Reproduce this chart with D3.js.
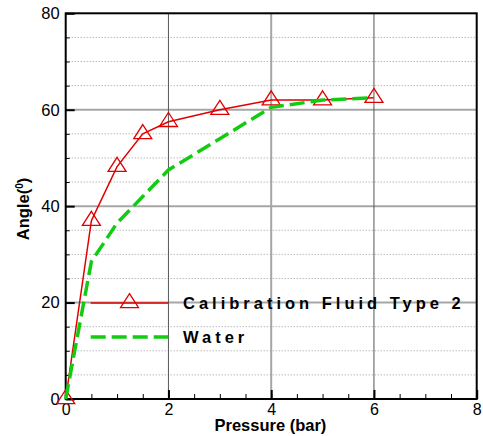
<!DOCTYPE html>
<html>
<head>
<meta charset="utf-8">
<script src="https://cdn.jsdelivr.net/npm/d3@7"></script>
<style>
  html, body { margin: 0; padding: 0; background: #fff; }
  svg { display: block; font-family: "Liberation Sans", Arial, sans-serif; }
</style>
</head>
<body>
<svg id="chart" width="483" height="436"></svg>
<script>
// ---- data ----
const pressureCal = [0, 0.5, 1, 1.5, 2, 3, 4, 5, 6];
const angleCal    = [0, 37, 48.2, 55, 57.5, 60, 62, 62, 62.5];
const pressureWater = [0, 0.5, 1, 1.5, 2, 3, 4, 5, 6];
const angleWater    = [0, 28.5, 36.5, 42, 47.5, 54, 60.5, 62, 62.5];
const xTicks = [0, 2, 4, 6, 8];
const yTicks = [0, 20, 40, 60, 80];
const seriesNames = ["Calibration Fluid Type 2", "Water"];

const svg = d3.select("#chart");
const x = d3.scaleLinear().domain([0, 8]).range([65.7, 476.7]);
const y = d3.scaleLinear().domain([0, 80]).range([399, 13.3]);

const x0 = x.range()[0], x1 = x.range()[1];
const y0 = y.range()[0], y1 = y.range()[1];

// minor dotted horizontal grid every 5
const minorY = d3.range(5, 80, 5).filter(v => v % 20 !== 0);
svg.append("g").selectAll("line").data(minorY).join("line")
  .attr("x1", x0).attr("x2", x1)
  .attr("y1", d => y(d)).attr("y2", d => y(d))
  .attr("stroke", "#9a9a9a").attr("stroke-width", 1)
  .attr("stroke-dasharray", "1,2");

// major horizontal grid
svg.append("g").selectAll("line").data([20, 40, 60]).join("line")
  .attr("x1", x0).attr("x2", x1)
  .attr("y1", d => y(d)).attr("y2", d => y(d))
  .attr("stroke", "#a6a6a6").attr("stroke-width", 2);

// major vertical grid
svg.append("g").selectAll("line").data([2, 4, 6]).join("line")
  .attr("x1", d => x(d)).attr("x2", d => x(d))
  .attr("y1", y0).attr("y2", y1)
  .attr("stroke", d => d === 4 ? "#a6a6a6" : "#555")
  .attr("stroke-width", d => d === 4 ? 2 : 1);

// minor ticks
svg.append("g").attr("transform", `translate(0,${y0})`)
  .call(d3.axisBottom(x).tickValues(d3.range(0.5, 8, 0.5)).tickSize(-5).tickFormat(""))
  .call(g => g.select(".domain").remove())
  .call(g => g.selectAll("line").attr("stroke", "#000").attr("stroke-width", 1));
svg.append("g").attr("transform", `translate(${x0},0)`)
  .call(d3.axisLeft(y).tickValues(minorY).tickSize(-4).tickFormat(""))
  .call(g => g.select(".domain").remove())
  .call(g => g.selectAll("line").attr("stroke", "#000").attr("stroke-width", 1));

// major axes
svg.append("g").attr("transform", `translate(0,${y0})`)
  .call(d3.axisBottom(x).tickValues(xTicks).tickSize(-9).tickPadding(5).tickFormat(d3.format("d")))
  .call(g => g.select(".domain").remove())
  .call(g => g.selectAll("line").attr("stroke", "#000").attr("stroke-width", 2))
  .call(g => g.selectAll("text").attr("font-size", "16px").attr("fill", "#000")
        .attr("font-family", "Liberation Sans, Arial, sans-serif"));
svg.append("g").attr("transform", `translate(${x0},0)`)
  .call(d3.axisLeft(y).tickValues(yTicks).tickSize(-9).tickPadding(6).tickFormat(d3.format("d")))
  .call(g => g.select(".domain").remove())
  .call(g => g.selectAll("line").attr("stroke", "#000").attr("stroke-width", 2))
  .call(g => g.selectAll("text").attr("font-size", "16.5px").attr("fill", "#000")
        .attr("font-family", "Liberation Sans, Arial, sans-serif"));

// frame
svg.append("rect")
  .attr("x", x0).attr("y", y1)
  .attr("width", x1 - x0).attr("height", y0 - y1)
  .attr("fill", "none").attr("stroke", "#000").attr("stroke-width", 2);

const red = "#e00000";
const green = "#11cc11";
const triPath = "M0,-9.3L9,4.7L-9,4.7Z";

const calData = pressureCal.map((p, i) => [p, angleCal[i]]);
const waterData = pressureWater.map((p, i) => [p, angleWater[i]]);
const line = d3.line().x(d => x(d[0])).y(d => y(d[1]));

svg.append("path").datum(calData)
  .attr("d", line).attr("fill", "none")
  .attr("stroke", red).attr("stroke-width", 1.5);
svg.append("g").selectAll("path").data(calData).join("path")
  .attr("transform", d => `translate(${x(d[0])},${y(d[1])})`)
  .attr("d", triPath).attr("fill", "none")
  .attr("stroke", red).attr("stroke-width", 1.3);

svg.append("path").datum(waterData)
  .attr("d", line).attr("fill", "none")
  .attr("stroke", green).attr("stroke-width", 3.5)
  .attr("stroke-dasharray", "15,6");

// legend
const lgX1 = 90.7, lgX2 = 168.3;
const lgY = [303, 337];
const lg = svg.append("g");
lg.append("line").attr("x1", lgX1).attr("x2", lgX2).attr("y1", lgY[0]).attr("y2", lgY[0])
  .attr("stroke", red).attr("stroke-width", 1.5);
lg.append("path").attr("transform", `translate(${(lgX1 + lgX2) / 2},${lgY[0]})`)
  .attr("d", triPath).attr("fill", "none").attr("stroke", red).attr("stroke-width", 1.3);
lg.append("line").attr("x1", lgX1).attr("x2", lgX2).attr("y1", lgY[1]).attr("y2", lgY[1])
  .attr("stroke", green).attr("stroke-width", 3.5).attr("stroke-dasharray", "15,6");
lg.selectAll("text").data(seriesNames).join("text")
  .attr("x", 183).attr("y", (d, i) => lgY[i] + 5.8)
  .attr("font-size", "16.5px").attr("font-weight", "bold")
  .attr("letter-spacing", "4px").attr("fill", "#000")
  .text(d => d);

// axis titles
svg.append("text")
  .attr("x", (x0 + x1) / 2 - 0.8).attr("y", 431)
  .attr("text-anchor", "middle").attr("font-size", "16.5px").attr("font-weight", "bold")
  .text("Pressure (bar)");

const yt = svg.append("text")
  .attr("transform", "translate(28.5,209) rotate(-90)")
  .attr("text-anchor", "middle").attr("font-size", "16.5px").attr("font-weight", "bold");
yt.append("tspan").text("Angle(");
yt.append("tspan").attr("font-size", "10px").attr("dy", "-6").text("0");
yt.append("tspan").attr("dy", "6").text(")");
</script>
</body>
</html>
